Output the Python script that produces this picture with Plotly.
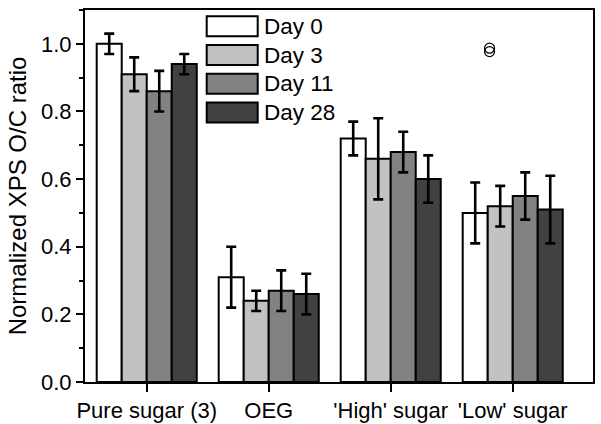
import plotly.graph_objects as go

categories = ["Pure sugar (3)", "OEG", "'High' sugar", "'Low' sugar"]
series_names = ["Day 0", "Day 3", "Day 11", "Day 28"]
day0 = [1.00, 0.31, 0.72, 0.50]
day0_err = [0.03, 0.09, 0.05, 0.09]
day3 = [0.91, 0.24, 0.66, 0.52]
day3_err = [0.05, 0.03, 0.12, 0.06]
day11 = [0.86, 0.27, 0.68, 0.55]
day11_err = [0.06, 0.06, 0.06, 0.07]
day28 = [0.94, 0.26, 0.60, 0.51]
day28_err = [0.03, 0.06, 0.07, 0.10]
outlier_x = [2.81, 2.81]
outlier_y = [0.977, 0.987]
y_ticks = [0.0, 0.2, 0.4, 0.6, 0.8, 1.0]

values = [day0, day3, day11, day28]
errors = [day0_err, day3_err, day11_err, day28_err]
colors = ["#ffffff", "#c2c2c2", "#828282", "#414141"]
FONT = "Liberation Sans, Arial, sans-serif"

xpos = list(range(len(categories)))
fig = go.Figure()
for name, v, e, c in zip(series_names, values, errors, colors):
    fig.add_trace(go.Bar(
        x=xpos, y=v, name=name,
        marker=dict(color=c, line=dict(color="black", width=2)),
        error_y=dict(type="data", array=e, visible=True, color="black",
                     thickness=2.6, width=5),
        showlegend=False,
    ))

fig.add_trace(go.Scatter(
    x=outlier_x, y=outlier_y, mode="markers",
    marker=dict(symbol="circle-open", size=10, color="black", line=dict(width=1.2)),
    showlegend=False, hoverinfo="skip",
))

# custom legend (large swatches)
L, R, T, B = 85, 593, 10, 381.7
W, H = R - L, B - T
def px(x):
    return (x - L) / W
def py(y):
    return (B - y) / H
shapes = []
annotations = []
for i, (name, c) in enumerate(zip(series_names, colors)):
    top = 16.3 + i * 28.7
    bot = top + 20
    shapes.append(dict(type="rect", xref="paper", yref="paper",
                       x0=px(206.7), x1=px(257.7), y0=py(bot), y1=py(top),
                       fillcolor=c, line=dict(color="black", width=2)))
    annotations.append(dict(xref="paper", yref="paper", x=px(262), y=py((top + bot) / 2),
                            text=name, showarrow=False, xanchor="left", yanchor="middle",
                            font=dict(family=FONT, size=22.5, color="black")))

fig.update_layout(
    width=601, height=424,
    margin=dict(l=L, r=601 - R, t=T, b=424 - B, autoexpand=False),
    paper_bgcolor="white", plot_bgcolor="white",
    barmode="group", bargap=0.18, bargroupgap=0,
    font=dict(family=FONT, size=22, color="black"),
    shapes=shapes, annotations=annotations,
    showlegend=False,
)
fig.update_xaxes(
    range=[-0.506, 3.658], tickvals=xpos, ticktext=categories,
    showline=True, linecolor="black", linewidth=2, mirror=True,
    ticks="outside", ticklen=8, tickwidth=2, tickcolor="black",
    showgrid=False, zeroline=False, automargin=False,
    tickfont=dict(family=FONT, size=22),
)
fig.update_yaxes(
    range=[0, 1.1], tickvals=y_ticks, tickformat=".1f",
    showline=True, linecolor="black", linewidth=2, mirror=True,
    ticks="outside", ticklen=7, tickwidth=2, tickcolor="black",
    minor=dict(dtick=0.1, ticks="outside", ticklen=4, tickwidth=2, tickcolor="black", showgrid=False),
    showgrid=False, zeroline=False, automargin=False,
    title=dict(text="Normalized XPS O/C ratio", font=dict(family=FONT, size=24), standoff=8),
    tickfont=dict(family=FONT, size=22),
)

fig.write_html("out.html", config={"displayModeBar": False},
               post_script="document.body.style.margin='0';document.body.style.overflow='hidden';")
